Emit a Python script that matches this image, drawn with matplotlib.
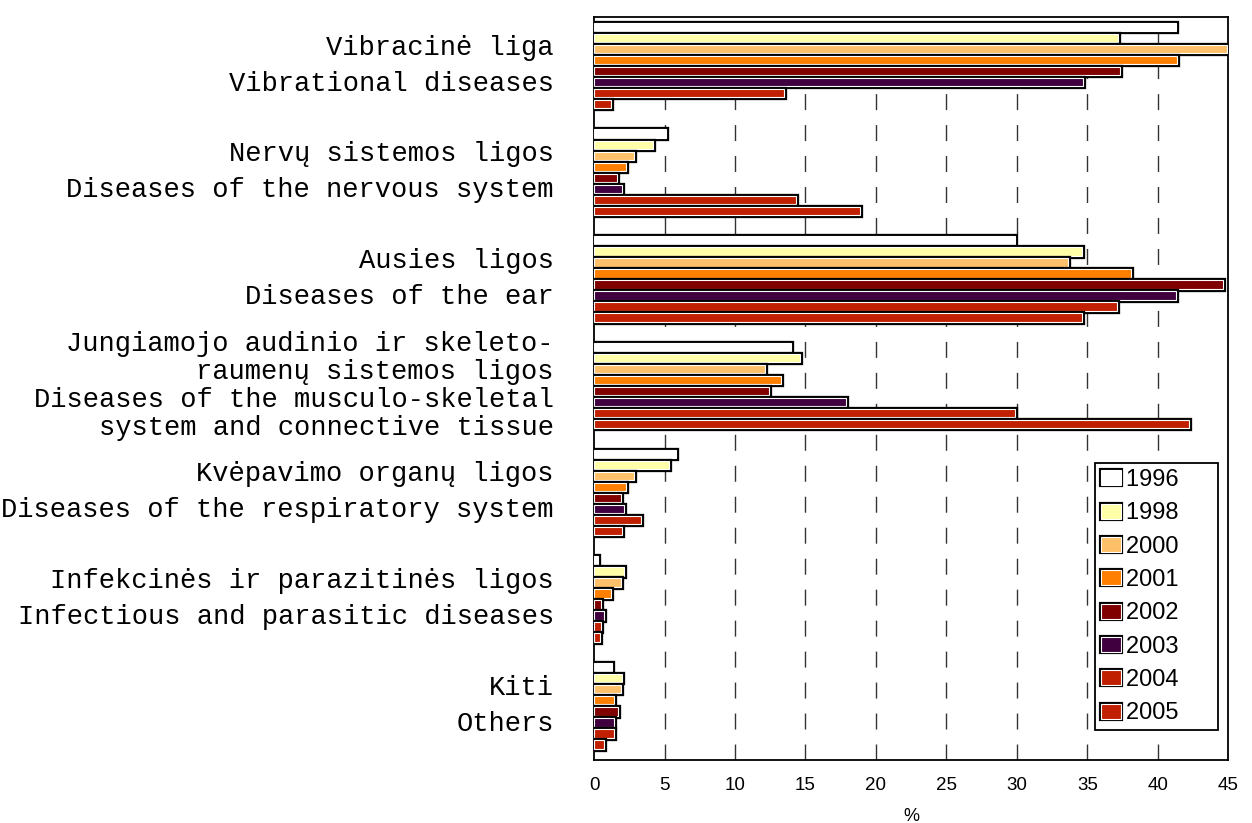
import numpy as np
import matplotlib
matplotlib.use("Agg")
import matplotlib.pyplot as plt
import matplotlib.patheffects as pe

plt.rcParams["lines.scale_dashes"] = False

# occupational disease structure, % of all cases
years = ["1996", "1998", "2000", "2001", "2002", "2003", "2004", "2005"]
categories = [
    "Vibracinė liga\nVibrational diseases",
    "Nervų sistemos ligos\nDiseases of the nervous system",
    "Ausies ligos\nDiseases of the ear",
    "Jungiamojo audinio ir skeleto-\nraumenų sistemos ligos\n"
    "Diseases of the musculo-skeletal\nsystem and connective tissue",
    "Kvėpavimo organų ligos\nDiseases of the respiratory system",
    "Infekcinės ir parazitinės ligos\nInfectious and parasitic diseases",
    "Kiti\nOthers",
]
vibration = [41.3, 37.2, 44.9, 41.4, 37.3, 34.7, 13.5, 1.2]
nervous = [5.1, 4.2, 2.8, 2.3, 1.6, 2.0, 14.3, 18.9]
ear = [29.9, 34.6, 33.6, 38.1, 44.6, 41.3, 37.1, 34.6]
musculo = [14.0, 14.6, 12.1, 13.3, 12.4, 17.9, 29.9, 42.2]
respiratory = [5.8, 5.3, 2.8, 2.3, 1.9, 2.1, 3.3, 2.0]
infectious = [0.3, 2.1, 1.9, 1.2, 0.5, 0.7, 0.5, 0.4]
others = [1.3, 2.0, 1.9, 1.4, 1.7, 1.4, 1.4, 0.7]
x_ticks = [0, 5, 10, 15, 20, 25, 30, 35, 40, 45]

colors = ["#FFFFFF", "#FFFFA8", "#FFC06A", "#FF8000",
          "#800000", "#400040", "#C02000", "#C02000"]

values = np.array([vibration, nervous, ear, musculo,
                   respiratory, infectious, others])

fig = plt.figure(figsize=(12.52, 8.23), dpi=100)
ax = fig.add_axes([0.4745, 0.0765, 0.5065, 0.9028])

group_pitch = 9.68
centers = 4.4 + group_pitch * np.arange(len(categories))
outline = [pe.Stroke(linewidth=3.8, foreground="black"), pe.Normal()]

for k, year in enumerate(years):
    ax.barh(centers + (k - 3.5), values[:, k], height=0.76,
            color=colors[k], edgecolor="white", linewidth=0.8,
            label=year + "     ", zorder=3, path_effects=outline)

ax.set_ylim(67.4, 0)
ax.set_xlim(0, 45)
ax.set_xticks(x_ticks)
ax.set_xticklabels([str(t) for t in x_ticks], family="Liberation Sans", fontsize=13.5)
ax.set_yticks(centers)
ax.set_yticklabels(categories, family="Liberation Mono", fontsize=19.5)
for i, lab in enumerate(ax.get_yticklabels()):
    lab.set_verticalalignment("center")
    lab.set_linespacing(1.1 if i == 3 else 1.5)
ax.tick_params(axis="y", length=0, pad=29)
ax.tick_params(axis="x", length=0, pad=12)

for xv in x_ticks[1:-1]:
    ax.axvline(xv, color="#333333", linewidth=1.0,
               linestyle=(0, (11.5, 10.8)), zorder=1)

for sp in ax.spines.values():
    sp.set_linewidth(1.3)
    sp.set_color("black")

ax.set_xlabel("%", family="Liberation Sans", fontsize=13, labelpad=10)

leg = ax.legend(loc="lower right", bbox_to_anchor=(0.984, 0.04),
                borderaxespad=0,
                prop={"family": "Liberation Sans", "size": 17},
                handlelength=0.85, handleheight=0.6, handletextpad=0.22,
                labelspacing=0.48, borderpad=0.25, fancybox=False,
                framealpha=1, edgecolor="black")
leg.get_frame().set_linewidth(1.3)
for h in leg.legend_handles:
    h.set_path_effects([pe.Stroke(linewidth=3.0, foreground="black"), pe.Normal()])

fig.savefig("out.png", dpi=100)
